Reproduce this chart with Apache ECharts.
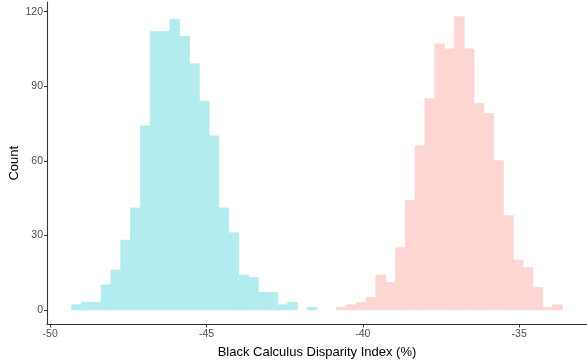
<!DOCTYPE html>
<html>
<head>
<meta charset="utf-8">
<script src="https://cdn.jsdelivr.net/npm/echarts@6/dist/echarts.min.js"></script>
<style>html,body{margin:0;padding:0;background:#fff}#c{width:587px;height:362px}</style>
</head>
<body>
<div id="c"></div>
<script>
// Histogram bins (50 bins over the combined range)
const binStart = -49.31;
const binWidth = 0.3138;
// Counts per bin for each group (cyan group starts at bin 0, pink at bin 27)
const cyanStartBin = 0;
const cyanCounts = [2,3,3,10,16,28,41,74,112,112,117,110,99,84,70,41,31,14,13,7,7,2,3,0,1];
const pinkStartBin = 27;
const pinkCounts = [1,2,3,5,14,11,25,44,66,85,107,105,118,105,83,79,60,38,20,17,9,1,2];
const xTicks = [-50,-45,-40,-35];
const yTicks = [0,30,60,90,120];
const xTitle = 'Black Calculus Disparity Index (%)';
const yTitle = 'Count';

function toData(startBin, counts){
  return counts.map((c,i)=>{
    const b = startBin + i;
    return [binStart + b*binWidth, binStart + (b+1)*binWidth, c];
  });
}
function renderItem(params, api){
  if (api.value(2) <= 0) return null;
  const p0 = api.coord([api.value(0), api.value(2)]);
  const p1 = api.coord([api.value(1), 0]);
  const col = api.visual('color');
  return {type:'rect', shape:{x:p0[0], y:p0[1], width:p1[0]-p0[0], height:p1[1]-p0[1]},
    style:{fill: col, stroke: col, lineWidth: 0.8}};
}
const chart = echarts.init(document.getElementById('c'), null, {renderer:'canvas'});
const labelFont = {color:'#4d4d4d', fontSize:10.5, fontFamily:'Liberation Sans, Arial, sans-serif'};
chart.setOption({
  animation:false,
  grid:{left:47, right:0, top:2, bottom:37.5, containLabel:false, outerBoundsMode:'none'},
  xAxis:{type:'value', min:-50.1, max:-32.83,
    axisLine:{show:true, onZero:false, lineStyle:{color:'#333', width:1.1}},
    axisTick:{show:true, length:3, customValues:xTicks, lineStyle:{color:'#333'}},
    axisLabel:Object.assign({customValues:xTicks, margin:4, showMinLabel:true, showMaxLabel:true}, labelFont),
    splitLine:{show:false},
    name:xTitle, nameLocation:'middle', nameGap:21, nameMoveOverlap:false,
    nameTextStyle:{color:'#000', fontSize:13, fontFamily:'Liberation Sans, Arial, sans-serif'}},
  yAxis:{type:'value', min:-5.9, max:123.9,
    axisLine:{show:true, onZero:false, lineStyle:{color:'#333', width:1.1}},
    axisTick:{show:true, length:3, customValues:yTicks, lineStyle:{color:'#333'}},
    axisLabel:Object.assign({customValues:yTicks, margin:4}, labelFont),
    splitLine:{show:false},
    name:yTitle, nameLocation:'middle', nameGap:26, nameRotate:90, nameMoveOverlap:false,
    nameTextStyle:{color:'#000', fontSize:13, fontFamily:'Liberation Sans, Arial, sans-serif'}},
  series:[
    {type:'custom', renderItem:renderItem, itemStyle:{color:'#b3ecee'}, data:toData(cyanStartBin, cyanCounts), encode:{x:[0,1], y:2}},
    {type:'custom', renderItem:renderItem, itemStyle:{color:'#fdd6d3'}, data:toData(pinkStartBin, pinkCounts), encode:{x:[0,1], y:2}}
  ]
});
</script>
</body>
</html>
